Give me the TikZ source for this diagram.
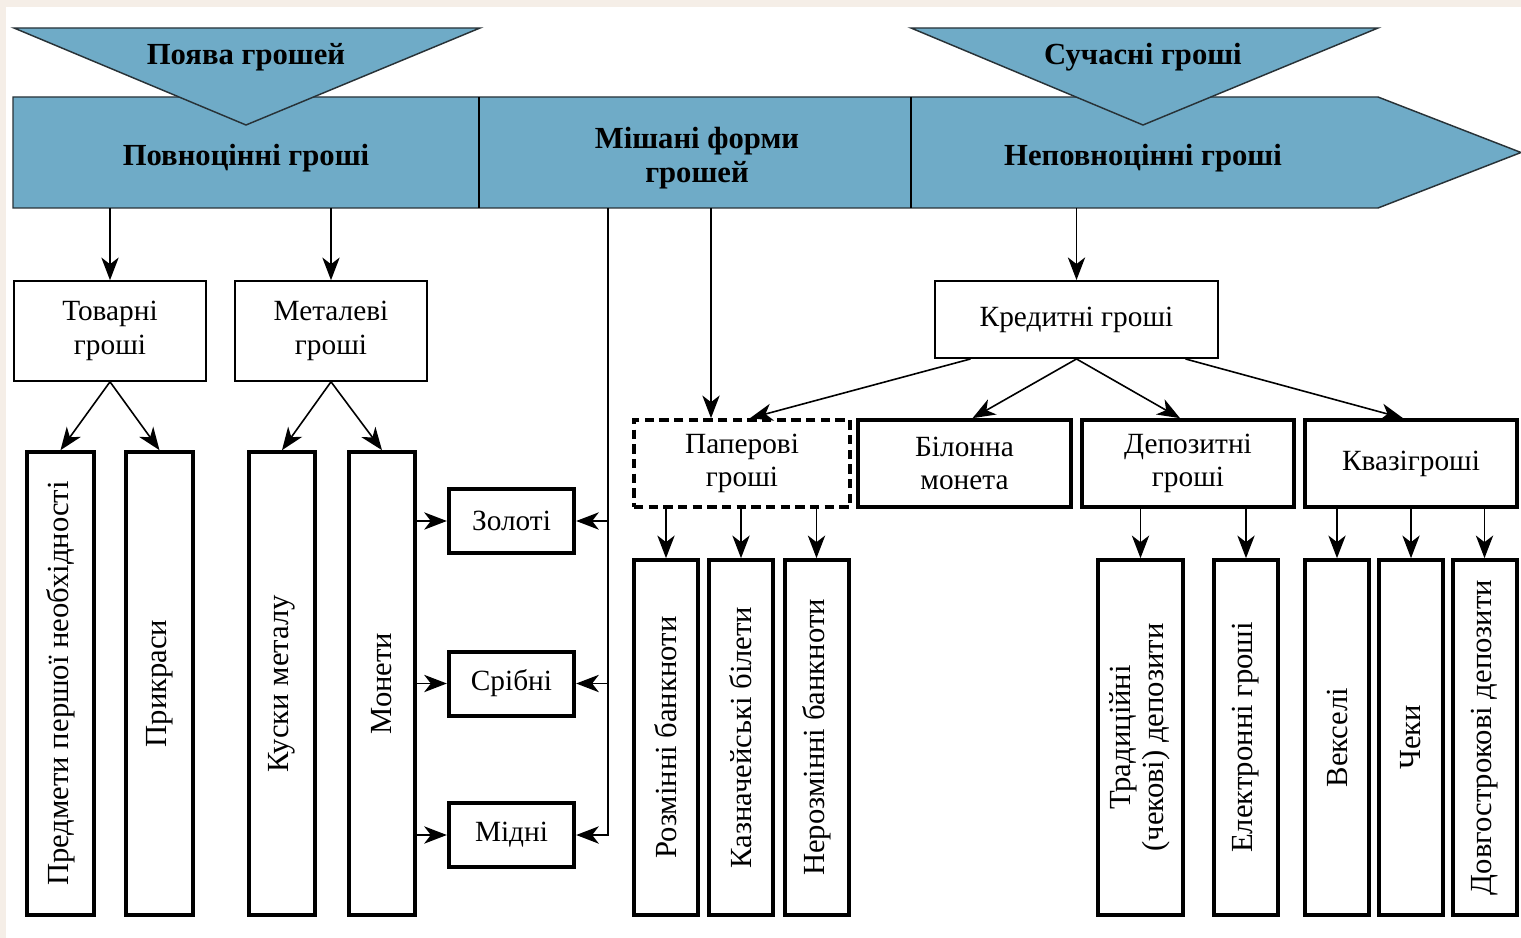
\documentclass[tikz,border=0pt]{standalone}
\usepackage{fontspec}
\setmainfont{Liberation Serif}
\usetikzlibrary{arrows.meta,calc}

\definecolor{barblue}{RGB}{111,171,199}
\definecolor{edgetint}{RGB}{245,238,231}

\tikzset{every picture/.style={line width=0.75pt}}
\tikzset{
  lbl/.style={font=\fontsize{22}{25}\selectfont, align=center, inner sep=0pt},
  vlbl/.style={font=\fontsize{23}{25}\selectfont},
  bartxt/.style={font=\fontsize{23}{25}\selectfont\bfseries, align=center, inner sep=0pt},
  thinbox/.style={lbl, draw, line width=1.2pt},
  thickbox/.style={lbl, draw, line width=3pt},
  arr/.style={-{Stealth[length=17pt,width=13pt,inset=5pt]}, line width=1.2pt},
}

\begin{document}
\begin{tikzpicture}[x=0.75pt,y=0.75pt,yscale=-1,xscale=1]
\useasboundingbox (0,0) rectangle (1521,938);
%Background
\fill[edgetint] (0,0) rectangle (1521,938);
\fill[white] (6,7) rectangle (1521,938);

%Shape: Arrow bar
\draw [fill=barblue, draw={rgb,255:red,40;green,50;blue,55}, line width=1.1pt] (13,97) -- (1378,97) -- (1521,152.5) -- (1378,208) -- (13,208) -- cycle ;
%Straight Lines: dividers
\draw [line width=1.1pt] (479,97) -- (479,208) ;
\draw [line width=1.1pt] (911,97) -- (911,208) ;

%Shape: Triangle
\draw [fill=barblue, draw={rgb,255:red,40;green,50;blue,55}, line width=1.1pt] (14,28) -- (480,28) -- (246,125) -- cycle ;
%Shape: Triangle
\draw [fill=barblue, draw={rgb,255:red,40;green,50;blue,55}, line width=1.1pt] (911,28) -- (1378,28) -- (1143,125) -- cycle ;

% Text nodes on the bar
\node[bartxt] (emerge) at (246,57) {Поява грошей};
\node[bartxt] (modern) at (1143,57) {Сучасні гроші};
\node[bartxt] (full) at (246,158) {Повноцінні гроші};
\node[bartxt] (mixed) at (697,158) {Мішані форми\\грошей};
\node[bartxt] (partial) at (1143,158) {Неповноцінні гроші};

\coordinate (fullA) at (110,208);
\coordinate (fullB) at (331,208);
\coordinate (mixA) at (608,208);
\coordinate (mixB) at (711,208);
\coordinate (partA) at (1076.5,208);

%Level 2
\node[thinbox, minimum width=144pt, minimum height=75pt] (tovarni) at (110,331) {Товарні\\гроші};
\node[thinbox, minimum width=144pt, minimum height=75pt] (metalevi) at (331,331) {Металеві\\гроші};
\node[thinbox, minimum width=212pt, minimum height=58pt] (kredytni) at (1076.5,319.5) {Кредитні гроші};

%Vertical boxes, left part
\node[thickbox, vlbl, minimum width=50pt, minimum height=347pt] (predmety) at (60.5,683.5) {\rotatebox{90}{Предмети першої необхідності}};
\node[thickbox, vlbl, minimum width=50pt, minimum height=347pt] (prykrasy) at (159.5,683.5) {\rotatebox{90}{Прикраси}};
\node[thickbox, vlbl, minimum width=50pt, minimum height=347pt] (kusky) at (282,683.5) {\rotatebox{90}{Куски металу}};
\node[thickbox, vlbl, minimum width=50pt, minimum height=347pt] (monety) at (382,683.5) {\rotatebox{90}{Монети}};

%Metal boxes
\node[thickbox, minimum width=94pt, minimum height=48pt] (zoloti) at (511.5,521) {Золоті};
\node[thickbox, minimum width=94pt, minimum height=48pt] (sribni) at (511.5,683.5) {Срібні};
\node[thickbox, minimum width=94pt, minimum height=48pt] (midni) at (511.5,835) {Мідні};

%Level 3
\node[thickbox, dash pattern={on 7pt off 4pt}, minimum width=162pt, minimum height=65pt] (paperovi) at (742,463.5) {Паперові\\гроші};
\node[thickbox, minimum width=160pt, minimum height=65pt] (bilonna) at (964.5,463.5) {Білонна\\монета};
\node[thickbox, minimum width=159pt, minimum height=65pt] (depozytni) at (1188,463.5) {Депозитні\\гроші};
\node[thickbox, minimum width=159pt, minimum height=65pt] (kvazi) at (1411,463.5) {Квазігроші};

%Vertical boxes, right part
\node[thickbox, vlbl, minimum width=48pt, minimum height=266pt] (rozminni) at (666,737.5) {\rotatebox{90}{Розмінні банкноти}};
\node[thickbox, vlbl, minimum width=48pt, minimum height=266pt] (kaznach) at (741,737.5) {\rotatebox{90}{Казначейські білети}};
\node[thickbox, vlbl, minimum width=48pt, minimum height=266pt] (nerozminni) at (816.5,737.5) {\rotatebox{90}{Нерозмінні банкноти}};
\node[thickbox, vlbl, minimum width=64pt, minimum height=266pt] (tradytsiini) at (1140.5,737.5) {\rotatebox{90}{\begin{tabular}{@{}c@{}}Традиційні\\(чекові) депозити\end{tabular}}};
\node[thickbox, vlbl, minimum width=48pt, minimum height=266pt] (elektronni) at (1246,737.5) {\rotatebox{90}{Електронні гроші}};
\node[thickbox, vlbl, minimum width=48pt, minimum height=266pt] (vekseli) at (1337,737.5) {\rotatebox{90}{Векселі}};
\node[thickbox, vlbl, minimum width=48pt, minimum height=266pt] (cheky) at (1411,737.5) {\rotatebox{90}{Чеки}};
\node[thickbox, vlbl, minimum width=48pt, minimum height=266pt] (dovhostr) at (1484.5,737.5) {\rotatebox{90}{Довгострокові депозити}};

%Arrows from the bar
\draw[arr] (fullA) -- (tovarni);
\draw[arr] (fullB) -- (metalevi);
\draw[arr] (partA) -- (kredytni);
\draw[arr] (mixB) -- (mixB |- paperovi.north);

%Arrows to the vertical boxes
\draw[arr] (tovarni.south) -- (predmety.north);
\draw[arr] (tovarni.south) -- (prykrasy.north);
\draw[arr] (metalevi.south) -- (kusky.north);
\draw[arr] (metalevi.south) -- (monety.north);

%Coins to metals
\draw[arr] (monety.east |- zoloti.west) -- (zoloti.west);
\draw[arr] (monety.east |- sribni.west) -- (sribni.west);
\draw[arr] (monety.east |- midni.west) -- (midni.west);

%Mixed forms to metals
\draw[arr] (mixA) |- (midni.east);
\draw[arr] (mixA |- zoloti.east) -- (zoloti.east);
\draw[arr] (mixA |- sribni.east) -- (sribni.east);

%Credit money
\draw[arr] ($(kredytni.south)+(-106,0)$) -- ($(paperovi.north)+(8,0)$);
\draw[arr] (kredytni.south) -- ($(bilonna.north)+(8,0)$);
\draw[arr] (kredytni.south) -- ($(depozytni.north)+(-8,0)$);
\draw[arr] ($(kredytni.south)+(109,0)$) -- ($(kvazi.north)+(-8,0)$);

%Level 3 to vertical boxes
\draw[arr] (rozminni.north |- paperovi.south) -- (rozminni.north);
\draw[arr] (kaznach.north |- paperovi.south) -- (kaznach.north);
\draw[arr] (nerozminni.north |- paperovi.south) -- (nerozminni.north);
\draw[arr] (tradytsiini.north |- depozytni.south) -- (tradytsiini.north);
\draw[arr] (elektronni.north |- depozytni.south) -- (elektronni.north);
\draw[arr] (vekseli.north |- kvazi.south) -- (vekseli.north);
\draw[arr] (cheky.north |- kvazi.south) -- (cheky.north);
\draw[arr] (dovhostr.north |- kvazi.south) -- (dovhostr.north);

\end{tikzpicture}
\end{document}
